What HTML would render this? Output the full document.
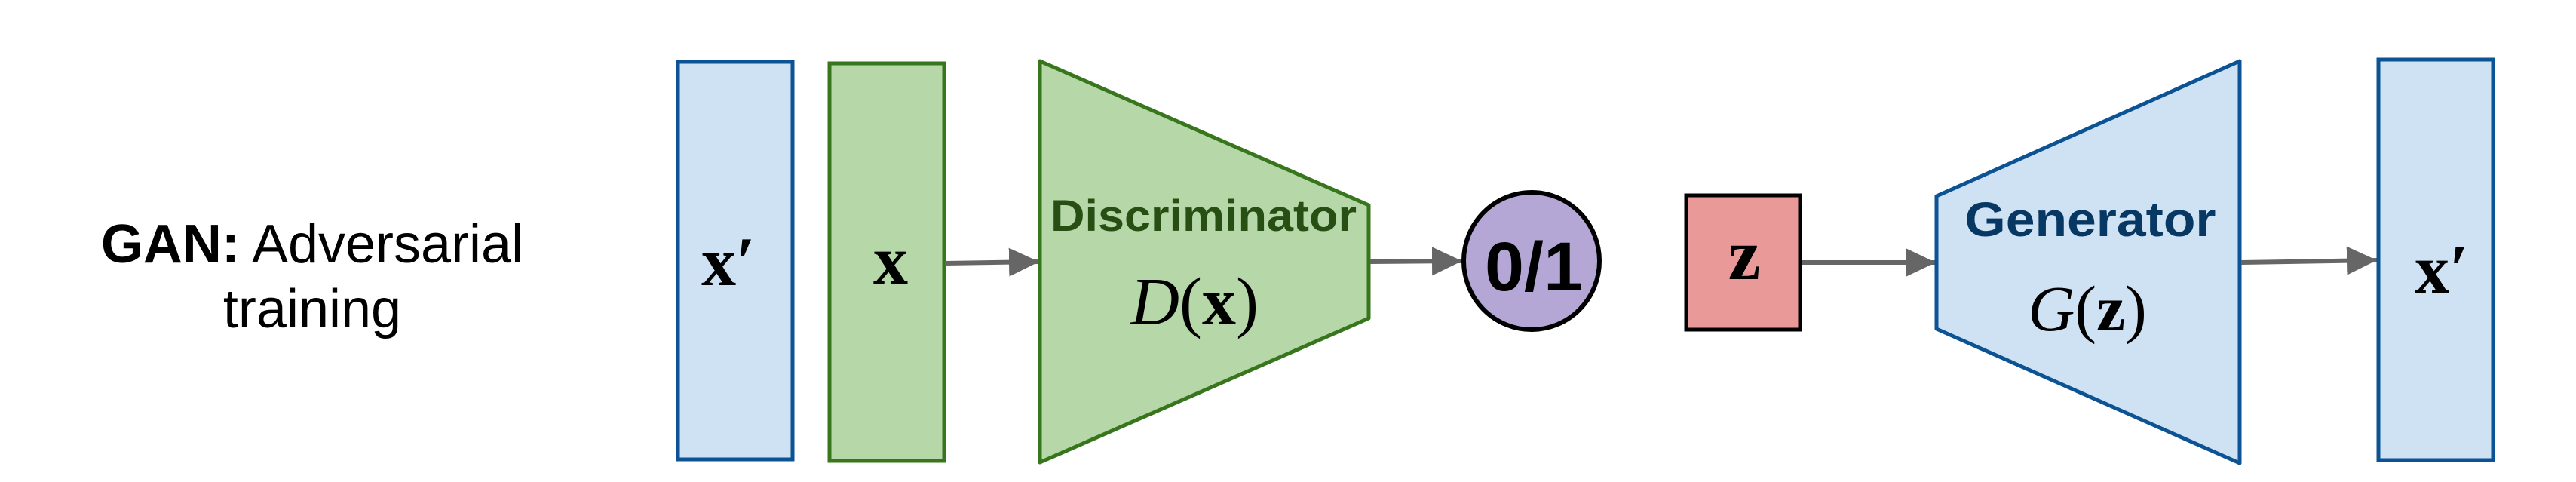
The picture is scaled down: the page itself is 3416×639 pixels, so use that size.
<!DOCTYPE html>
<html><head><meta charset="utf-8"><style>
html,body{margin:0;padding:0;background:#fff;}
svg{display:block;}
</style></head><body>
<svg width="3416" height="639" viewBox="0 0 3416 639" xmlns="http://www.w3.org/2000/svg">
<defs>
<marker id="ah" markerWidth="40" markerHeight="38" refX="10" refY="5" orient="auto" markerUnits="userSpaceOnUse" viewBox="0 0 10 10" preserveAspectRatio="none">
<path d="M0,0 L10,5 L0,10 z" fill="#666"/>
</marker>
</defs>
<rect width="3416" height="639" fill="#fff"/>

<g font-family="Liberation Sans, sans-serif" font-size="72" fill="#000" text-anchor="middle">
<text x="414" y="348"><tspan font-weight="bold">GAN:</tspan> Adversarial</text>
<text x="414" y="434">training</text>
</g>

<rect x="899" y="82" width="152" height="527" fill="#cfe2f3" stroke="#0b5394" stroke-width="5"/>
<text x="966" y="378" font-family="Liberation Serif, serif" font-weight="bold" font-size="92" text-anchor="middle">x′</text>

<rect x="1100" y="84" width="152" height="527" fill="#b6d7a8" stroke="#38761d" stroke-width="5"/>
<text x="1181" y="376" font-family="Liberation Serif, serif" font-weight="bold" font-size="92" text-anchor="middle">x</text>

<line x1="1253" y1="349" x2="1378" y2="347" stroke="#666" stroke-width="6" marker-end="url(#ah)"/>

<polygon points="1379,81 1815,272 1815,422 1379,613" fill="#b6d7a8" stroke="#38761d" stroke-width="5" stroke-linejoin="round"/>
<text x="1596" y="306" font-family="Liberation Sans, sans-serif" font-weight="bold" font-size="58" fill="#274e13" text-anchor="middle" textLength="406" lengthAdjust="spacingAndGlyphs">Discriminator</text>
<text x="1584" y="430" font-family="Liberation Serif, serif" font-size="90" text-anchor="middle"><tspan font-style="italic">D</tspan>(<tspan font-weight="bold">x</tspan>)</text>

<line x1="1817" y1="347" x2="1939" y2="346" stroke="#666" stroke-width="6" marker-end="url(#ah)"/>

<ellipse cx="2031" cy="346" rx="90" ry="91" fill="#b4a7d6" stroke="#000" stroke-width="6"/>
<text x="2034" y="385" font-family="Liberation Sans, sans-serif" font-weight="bold" font-size="92" text-anchor="middle" textLength="130" lengthAdjust="spacingAndGlyphs">0/1</text>

<rect x="2236" y="259" width="151" height="178" fill="#ea9999" stroke="#000" stroke-width="5"/>
<text x="2313" y="370" font-family="Liberation Serif, serif" font-weight="bold" font-size="96" text-anchor="middle">z</text>

<line x1="2389" y1="348" x2="2567" y2="348" stroke="#666" stroke-width="6" marker-end="url(#ah)"/>

<polygon points="2568,260 2970,81 2970,614 2568,436" fill="#cfe2f3" stroke="#0b5394" stroke-width="5" stroke-linejoin="round"/>
<text x="2772" y="313" font-family="Liberation Sans, sans-serif" font-weight="bold" font-size="64" fill="#073763" text-anchor="middle" textLength="333" lengthAdjust="spacingAndGlyphs">Generator</text>
<text x="2768" y="438" font-family="Liberation Serif, serif" font-size="86" text-anchor="middle"><tspan font-style="italic">G</tspan>(<tspan font-weight="bold">z</tspan>)</text>

<line x1="2972" y1="348" x2="3152" y2="345" stroke="#666" stroke-width="6" marker-end="url(#ah)"/>

<rect x="3154" y="79" width="152" height="531" fill="#cfe2f3" stroke="#0b5394" stroke-width="5"/>
<text x="3238" y="388" font-family="Liberation Serif, serif" font-weight="bold" font-size="92" text-anchor="middle">x′</text>
</svg>
</body></html>
